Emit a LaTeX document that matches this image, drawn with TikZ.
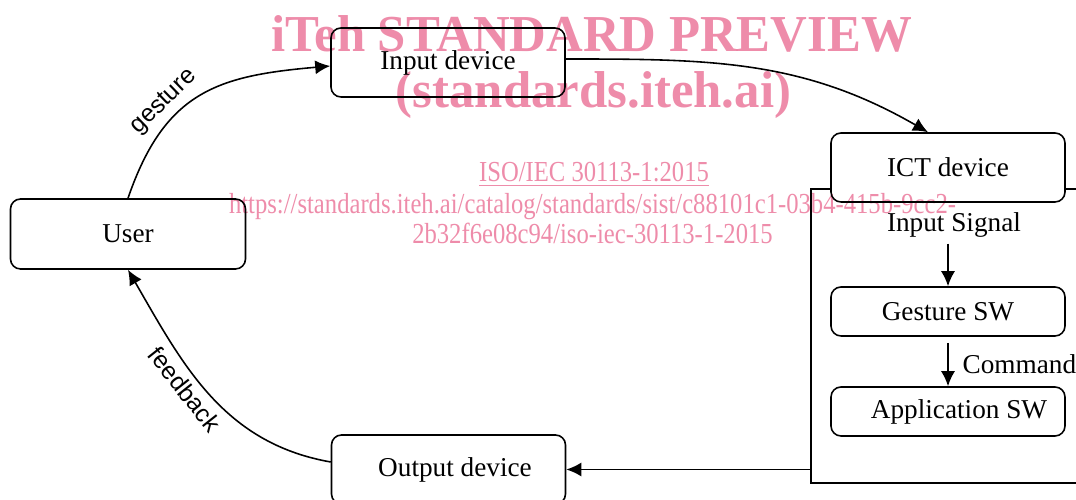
\documentclass[tikz,border=0pt]{standalone}
\usepackage{fontspec}
\setmainfont{Liberation Serif}
\newfontfamily\arclabelfont{Liberation Sans}
\newfontfamily\wmboldfont[FakeStretch=0.98]{Liberation Serif}
\newfontfamily\wmthinfont[FakeStretch=0.85]{Liberation Serif}
\usetikzlibrary{arrows.meta}
\definecolor{wmpink}{RGB}{238,140,170}

\begin{document}
\begin{tikzpicture}[
	devbox/.style={draw, line width=0.9pt, rounded corners=0.2cm, fill=white, inner sep=0,
		minimum width=4.68cm, minimum height=1.38cm, font=\fontsize{15.5}{18}\selectfont},
	swbox/.style={devbox, minimum height=0.98cm},
	flow/.style={-{Latex[length=0.3cm,width=0.28cm]}, line width=0.9pt},
	arclabel/.style={font=\arclabelfont\fontsize{14}{16}\selectfont},
	wmbig/.style={anchor=base, text=wmpink, inner sep=0, font=\wmboldfont\bfseries\fontsize{29.5}{31}\selectfont},
	wmsmall/.style={anchor=base, text=wmpink, inner sep=0, font=\wmthinfont\fontsize{16.5}{18}\selectfont}
	]
			\useasboundingbox (0,0) rectangle (21.52,-10);
			
			\node[draw, line width=0.9pt, minimum width=5.78cm, minimum height=5.88cm] (ictsys) at (19.11,-6.72) {};%cadre ICT
			\node[devbox] (input) at (8.96,-1.25) {Input device};
			\node[devbox] (ict) at (18.96,-3.35) {ICT device};
			\node[devbox, minimum width=4.70cm, minimum height=1.40cm] (user) at (2.56,-4.68) {User};
			\node[devbox] (output) at (8.97,-9.39) {\hspace{0.26cm}Output device};
			\node[swbox] (gsw) at (18.96,-6.23) {Gesture SW};
			\node[swbox] (asw) at (18.96,-8.23) {\hspace{0.44cm}Application SW};
			\node[font=\fontsize{15.5}{18}\selectfont] (isig) at (19.08,-4.5) {Input Signal};
			
			\draw[flow] (user.north) to[out=71,in=185,looseness=1.2] node[arclabel, sloped, above, pos=0.36] {gesture} ([yshift=-0.07cm]input.west);
			\draw[flow] ([yshift=0.07cm]input.east) to[out=0,in=150] ([xshift=-0.4cm]ict.north);
			\draw[flow] (isig.south -| gsw.north) -- (gsw.north);
			\draw[flow] ([yshift=-0.12cm]gsw.south) -- node[right, xshift=0.16cm, font=\fontsize{15.5}{18}\selectfont] {Command} (asw.north);
			\draw[flow] (output.east -| ictsys.west) -- (output.east);
			\draw[flow] ([yshift=0.15cm]output.west) to[out=170,in=-60] node[arclabel, sloped, below, pos=0.57] {feedback} (user.south);
			
			\begin{scope}[blend mode=multiply]%filigrane
				\node[wmbig] (wmtitle) at (11.83,-1.04) {iTeh STANDARD PREVIEW};
				\node[wmbig] (wmsite) at (11.87,-2.16) {(standards.iteh.ai)};
				\node[wmsmall] (wmiso) at (11.88,-3.64) {\underline{ISO/IEC 30113-1:2015}};
				\node[wmsmall] (wmurla) at (11.85,-4.28) {https://standards.iteh.ai/catalog/standards/sist/c88101c1-03b4-415b-9cc2-};
				\node[wmsmall] (wmurlb) at (11.85,-4.88) {2b32f6e08c94/iso-iec-30113-1-2015};
			\end{scope}
			
		\end{tikzpicture}
\end{document}
